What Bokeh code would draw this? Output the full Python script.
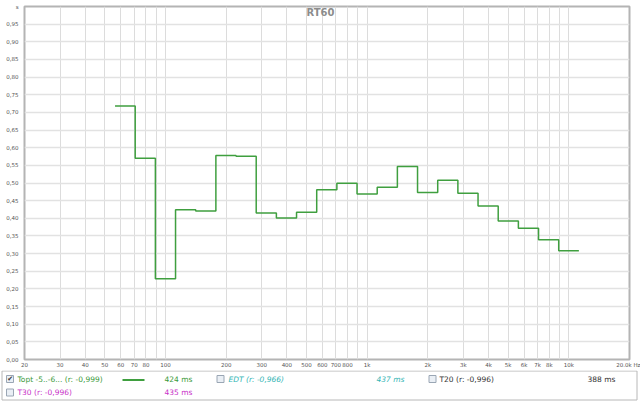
import math
from bokeh.plotting import figure
from bokeh.models import FixedTicker, Range1d, Label, ColumnDataSource
from bokeh.layouts import column, row
from bokeh.core.properties import value
from bokeh.embed import file_html
from bokeh.resources import INLINE

# ---- data (1/3-octave bands, RT60 in seconds) ----
bands = [63, 80, 100, 125, 160, 200, 250, 315, 400, 500, 630, 800,
         1000, 1250, 1600, 2000, 2500, 3150, 4000, 5000, 6300, 8000, 10000]
rt60 = [0.718, 0.570, 0.229, 0.424, 0.421, 0.578, 0.576, 0.415, 0.401, 0.417,
        0.481, 0.499, 0.469, 0.488, 0.547, 0.473, 0.508, 0.471, 0.435, 0.392,
        0.372, 0.339, 0.308]

x_ticks = [20, 30, 40, 50, 60, 70, 80, 90, 100, 200, 300, 400, 500, 600, 700, 800, 900,
           1000, 2000, 3000, 4000, 5000, 6000, 7000, 8000, 9000, 10000, 20000]
x_labels = ["20", "30", "40", "50", "60", "70", "80", "", "100", "200", "300", "400", "500",
            "600", "700", "800", "", "1k", "2k", "3k", "4k", "5k", "6k", "7k", "8k", "",
            "10k", "20.0k Hz"]
y_ticks = [round(0.05 * i, 2) for i in range(21)]
y_labels = [("%.2f" % t).replace(".", ",") for t in y_ticks[:-1]] + ["s"]

legend_names = ["Topt -5..-6... (r: -0,999)", "EDT (r: -0,966)", "T20 (r: -0,996)", "T30 (r: -0,996)"]
legend_values = ["424 ms", "437 ms", "388 ms", "435 ms"]
legend_colors = ["#3a9a3a", "#33b5b5", "#333333", "#c832c8"]

FONT = "DejaVu Sans"
GREEN = "#3f9f3f"

# ---- main plot ----
p = figure(width=640, height=370, x_axis_type="log",
           x_range=Range1d(20, 20000), y_range=Range1d(0, 1.0),
           output_backend="svg", toolbar_location=None,
           min_border_left=24, min_border_right=11, min_border_top=6, min_border_bottom=10)
p.background_fill_color = "white"
p.border_fill_color = "white"
p.outline_line_color = "#b4b4b4"
p.outline_line_width = 2

p.xaxis.ticker = FixedTicker(ticks=x_ticks)
p.xaxis.major_label_overrides = {t: l for t, l in zip(x_ticks, x_labels)}
p.yaxis.ticker = FixedTicker(ticks=y_ticks)
p.yaxis.major_label_overrides = {t: l for t, l in zip(y_ticks, y_labels)}
for ax in (p.xaxis, p.yaxis):
    ax.axis_line_color = None
    ax.major_tick_line_color = None
    ax.minor_tick_line_color = None
    ax.major_tick_out = 0
    ax.major_tick_in = 0
    ax.minor_tick_out = 0
    ax.minor_tick_in = 0
    ax.major_label_text_font = FONT
    ax.major_label_text_font_size = "5.5px"
    ax.major_label_text_color = "#555555"
p.xaxis.major_label_standoff = 2
p.yaxis.major_label_standoff = 6

p.xgrid.ticker = FixedTicker(ticks=x_ticks)
p.ygrid.ticker = FixedTicker(ticks=y_ticks)
p.xgrid.grid_line_color = "#dcdcdc"
p.ygrid.grid_line_color = "#e2e2e2"
p.xgrid.grid_line_width = 1
p.ygrid.grid_line_width = 1.5

xs, ys = [], []
for f, v in zip(bands, rt60):
    c = 10 ** (round(10 * math.log10(f)) / 10)
    xs += [c / 10 ** 0.05, c * 10 ** 0.05]
    ys += [v, v]
p.line(xs, ys, line_color=GREEN, line_width=1.5)

p.add_layout(Label(x=587, y=0.984, text="RT60", text_align="center", text_baseline="middle",
                   text_font=FONT, text_font_size="10px", text_font_style="bold",
                   text_color="#8c8c8c"))

# ---- legend panel ----
leg = figure(width=640, height=31, x_range=Range1d(0, 640), y_range=Range1d(31, 0),
             output_backend="svg", toolbar_location=None,
             min_border_left=0, min_border_right=0, min_border_top=0, min_border_bottom=0,
             x_axis_location=None, y_axis_location=None)
leg.outline_line_color = None
leg.xgrid.visible = False
leg.ygrid.visible = False
leg.background_fill_color = "white"
leg.border_fill_color = "white"

leg.quad(left=1.5, right=636.5, top=0.5, bottom=29.5, fill_color="white",
         line_color="#b8b8b8", line_width=1)

box_x = [9.5, 220, 432, 9.5]
box_y = [8.5, 8.5, 8.5, 22]
text_y = [8.7, 8.7, 8.7, 22.2]
name_x = [17, 228, 439, 17]
val_x = [164, 376, 587, 164]
styles = ["normal", "italic", "normal", "normal"]

leg.rect(x=box_x, y=box_y, width=7, height=7, fill_color="#eaeff5",
         line_color="#9aa6b4", line_width=1)
leg.text(x=[9.6], y=[8.8], text=["✔"], text_align="center", text_baseline="middle",
         text_font=value(FONT), text_font_size="7px", text_color="#333333")

src = ColumnDataSource(dict(nx=name_x, vx=val_x, y=text_y, name=legend_names,
                            val=legend_values, color=legend_colors, style=styles))
leg.text(x="nx", y="y", text="name", text_color="color", text_font_style="style",
         text_align="left", text_baseline="middle", text_font=value(FONT),
         text_font_size="7.5px", source=src)
leg.text(x="vx", y="y", text="val", text_color="color", text_font_style="style",
         text_align="left", text_baseline="middle", text_font=value(FONT),
         text_font_size="7.5px", source=src)
leg.line([122, 144], [9.5, 9.5], line_color=GREEN, line_width=2)

layout = column(p, row(leg), spacing=0)
open("out.html", "w").write(file_html(layout, INLINE))
